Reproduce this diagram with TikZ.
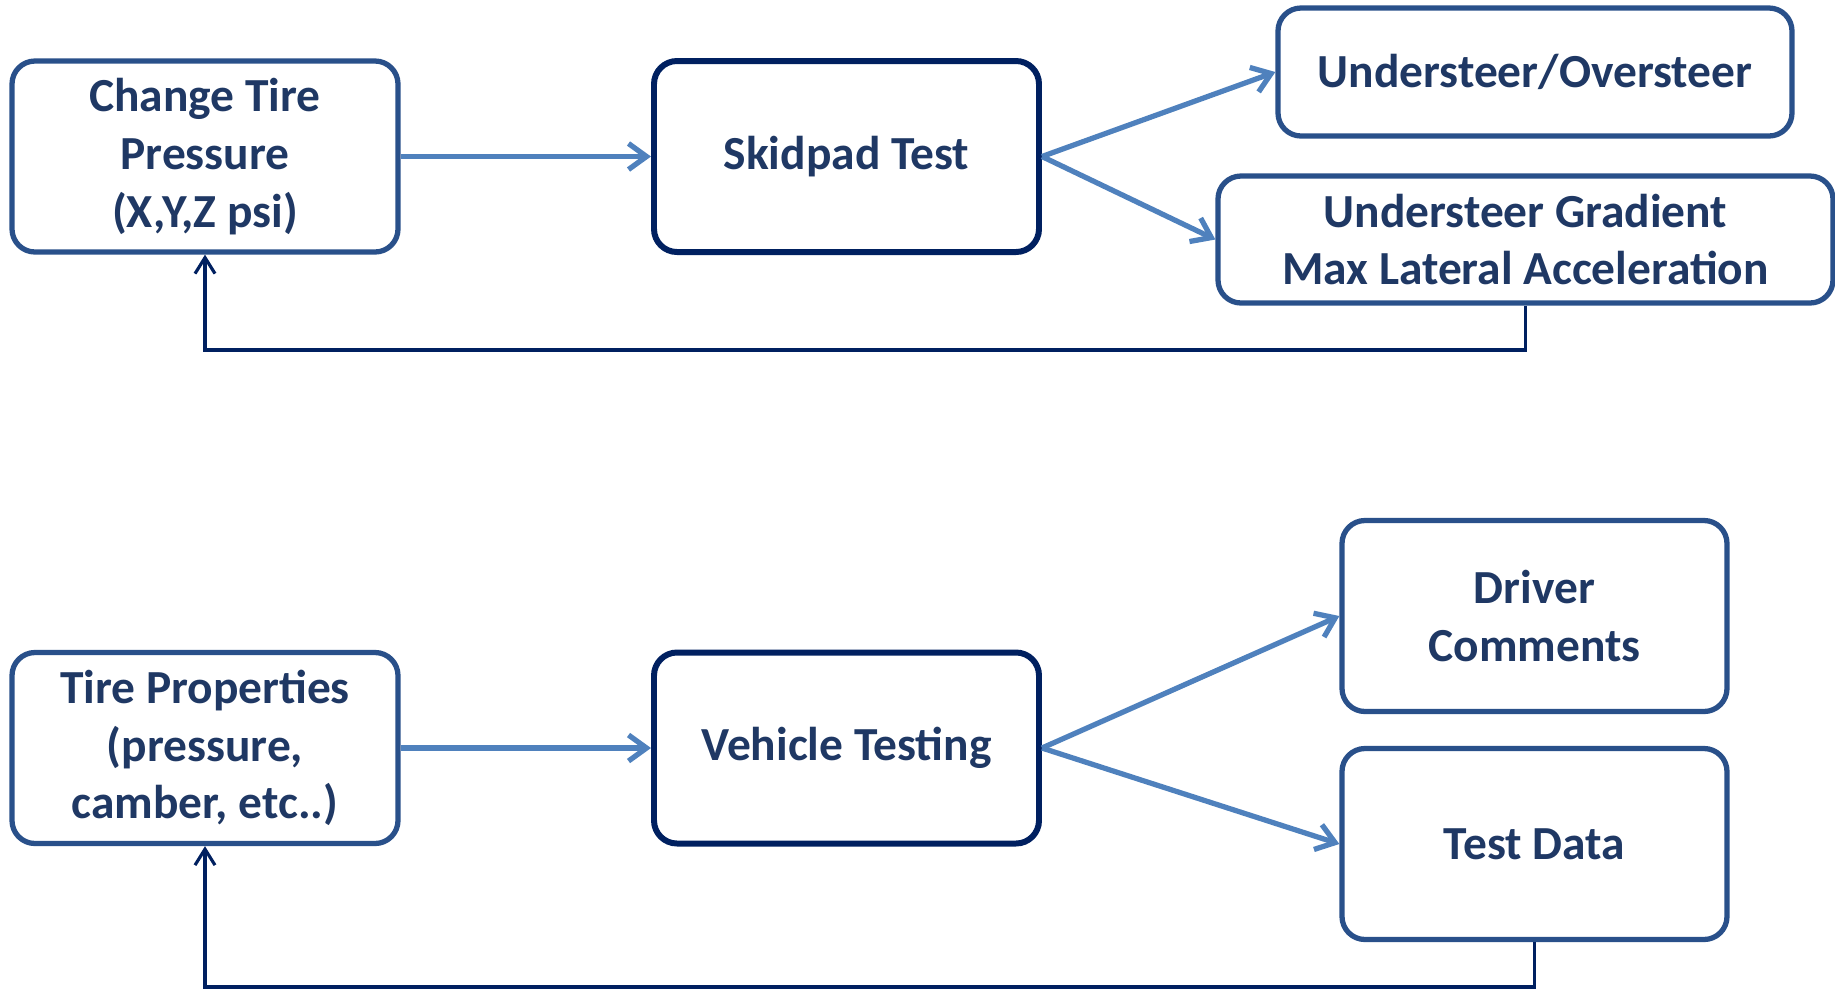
\documentclass[tikz,border=0pt]{standalone}
\usepackage{fontspec}
\setmainfont{Carlito}
\usetikzlibrary{arrows.meta}
\definecolor{textnavy}{RGB}{31,56,100}
\definecolor{boxblue}{RGB}{41,80,138}
\definecolor{darknavy}{RGB}{0,32,96}
\definecolor{flowblue}{RGB}{79,129,189}

\begin{document}
\begin{tikzpicture}[
    font=\fontsize{13.5}{16.4}\selectfont\bfseries,
    box/.style={draw=boxblue, line width=1.5pt, rounded corners=0.23cm,
      align=center, text=textnavy, inner sep=0pt},
    sidebox/.style={box, minimum width=3.86cm, minimum height=1.91cm},
    testbox/.style={box, draw=darknavy, line width=1.7pt,
      minimum width=3.85cm, minimum height=1.91cm},
    flow/.style={-{Straight Barb[length=1.8mm,width=2.6mm]}, flowblue, line width=1.5pt},
    feedback/.style={-{Straight Barb[length=1.6mm,width=2mm]}, darknavy, line width=0.9pt}
  ]

    \useasboundingbox (0,0) rectangle (18.35,-9.89);

    % Skidpad loop (top)
    \node[sidebox] (chg) at (2.05,-1.565) {Change Tire\\Pressure\\(X,Y,Z psi)};
    \node[testbox] (skid) at (8.465,-1.565) {Skidpad Test};
    \node[box, minimum width=5.14cm, minimum height=1.28cm] (uo) at (15.35,-0.72)
      {Understeer/Oversteer};
    \node[box, minimum width=6.15cm, minimum height=1.27cm] (ug) at (15.255,-2.395)
      {Understeer Gradient\\Max Lateral Acceleration};

    \draw[flow] (chg.east) -- (skid.west);
    \draw[flow] (skid.east) -- (uo.west);
    \draw[flow] (skid.east) -- (ug.west);

    % feedback back to the pressure change
    \coordinate (fbtop) at (0,-3.50);
    \draw[feedback] (ug.south) -- (ug.south |- fbtop) -| (chg.south);

    % Vehicle testing loop (bottom)
    \node[sidebox] (tprop) at (2.05,-7.48) {Tire Properties\\(pressure,\\camber, etc..)};
    \node[testbox] (veh) at (8.465,-7.48) {Vehicle Testing};
    \node[sidebox, minimum width=3.85cm] (drv) at (15.345,-6.16) {Driver\\Comments};
    \node[sidebox, minimum width=3.85cm] (data) at (15.345,-8.44) {Test Data};

    \draw[flow] (tprop.east) -- (veh.west);
    \draw[flow] (veh.east) -- (drv.west);
    \draw[flow] (veh.east) -- (data.west);

    \coordinate (fbbot) at (0,-9.87);
    \draw[feedback] (data.south) -- (data.south |- fbbot) -| (tprop.south);

  \end{tikzpicture}
\end{document}
